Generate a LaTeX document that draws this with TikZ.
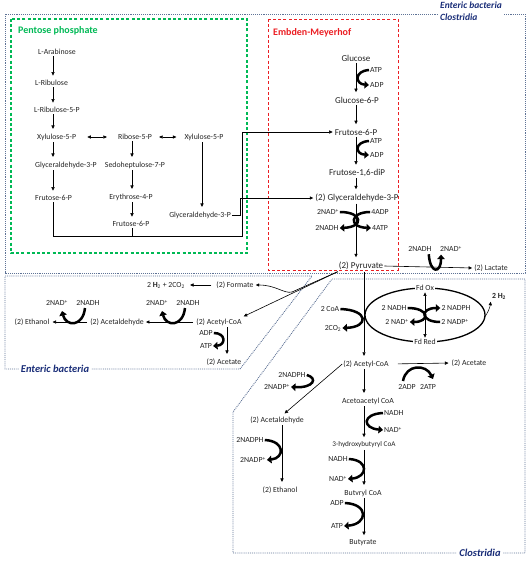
\documentclass[tikz,border=0pt]{standalone}
\usepackage{fontspec}
\setmainfont{Carlito}
\usetikzlibrary{arrows.meta,calc}
\definecolor{ppgreen}{RGB}{0,185,85}
\definecolor{emred}{RGB}{235,30,35}
\definecolor{boxblue}{RGB}{95,115,150}
\definecolor{lblblue}{RGB}{25,45,120}
\definecolor{txt}{RGB}{35,35,35}
\begin{document}
\begin{tikzpicture}[x=1pt,y=-1pt,
  t/.style={font=\fontsize{7.8}{9}\selectfont, text=txt, inner xsep=1pt, inner ysep=1.5pt},
  te/.style={t, font=\fontsize{9}{10}\selectfont},
  arr/.style={line width=0.6pt, -{Triangle[length=3.5pt,width=3.2pt]}, shorten >=1pt},
  varr/.style={arr, shorten >=3pt},
  pline/.style={line width=0.6pt},
  tarr/.style={line width=2.5pt, -{Triangle[length=4.5pt,width=7.5pt]}},
  dbl/.style={line width=0.6pt, {Triangle[length=3.5pt,width=3.2pt]}-{Triangle[length=3.5pt,width=3.2pt]}},
  regbox/.style={draw=boxblue, densely dotted, line width=0.9pt},
  reglbl/.style={text=lblblue, font=\bfseries\itshape\fontsize{10.5}{11}\selectfont, fill=white, inner sep=2pt},
  title/.style={font=\bfseries\fontsize{10}{11}\selectfont, anchor=west, inner sep=0pt}
]
\useasboundingbox (0,0) rectangle (530,562);

% ---------- region boxes ----------
\draw[regbox] (5,14) rectangle (525,273);
\node[reglbl, font=\bfseries\itshape\fontsize{9.5}{12}\selectfont, anchor=north west, align=left, inner sep=1pt] (lblall) at (439,1) {Enteric bacteria\\Clostridia};
\draw[regbox] (5,276) -- (312,276) -- (240,369) -- (5,369) -- cycle;
\node[reglbl] (lblent) at (55,369) {Enteric bacteria};
\draw[regbox] (332,279) -- (525,279) -- (525,553) -- (233,553) -- (233,412) -- cycle;
\node[reglbl] (lblclo) at (480,553) {Clostridia};

\draw[ppgreen, line width=1.1pt, dash pattern=on 3pt off 2.2pt] (11,19) rectangle (247,253);
\node[title, text=ppgreen] (pptitle) at (18,31) {Pentose phosphate};
\draw[emred, line width=1pt, dash pattern=on 3pt off 2.2pt] (268,19) rectangle (398,270);
\node[title, text=emred] (emtitle) at (273,33) {Embden-Meyerhof};

% ---------- pentose phosphate ----------
\coordinate (c1) at (53,0);
\coordinate (c2) at (132,0);
\coordinate (c2r) at (202,0);
\node[t, anchor=west] (arab) at (37,52) {L-Arabinose};
\node[t, anchor=west] (rib) at (34,83) {L-Ribulose};
\node[t, anchor=west] (rib5) at (33,110) {L-Ribulose-5-P};
\node[t, anchor=west] (xyl1) at (36,137) {Xylulose-5-P};
\node[t, anchor=west] (gap1) at (34,165) {Glyceraldehyde-3-P};
\node[t, anchor=west] (f6p1) at (34,198) {Frutose-6-P};
\node[t] (r5p) at (135,137) {Ribose-5-P};
\node[t] (s7p) at (135,165) {Sedoheptulose-7-P};
\node[t] (e4p) at (131,197) {Erythrose-4-P};
\node[t] (f6p2) at (131,224) {Frutose-6-P};
\node[t] (xyl2) at (204,137) {Xylulose-5-P};
\node[t, anchor=east] (gap2) at (232,215) {Glyceraldehyde-3-P};

\draw[varr] (arab.south -| c1) -- (rib.north -| c1);
\draw[varr] (rib.south -| c1) -- (rib5.north -| c1);
\draw[varr] (rib5.south -| c1) -- (xyl1.north -| c1);
\draw[varr] (xyl1.south -| c1) -- (gap1.north -| c1);
\draw[varr] (gap1.south -| c1) -- (f6p1.north -| c1);
\draw[varr] (r5p.south -| c2) -- (s7p.north -| c2);
\draw[varr] (s7p.south -| c2) -- (e4p.north -| c2);
\draw[varr] (e4p.south -| c2) -- (f6p2.north -| c2);
\draw[varr] (xyl2.south -| c2r) -- (gap2.north -| c2r);
\draw[dbl, shorten <=10pt, shorten >=10pt] (xyl1.east) -- (r5p.west);
\draw[dbl, shorten <=6pt, shorten >=7pt] (r5p.east) -- (xyl2.west);

% ---------- Embden-Meyerhof ----------
\coordinate (c3) at (356,0);
\node[te] (glc) at (356,58) {Glucose};
\node[te] (g6p) at (357,100) {Glucose-6-P};
\node[te] (f6p3) at (356,132) {Frutose-6-P};
\node[te] (fbp) at (357,173) {Frutose-1,6-diP};
\node[te] (gap3) at (357,198) {(2) Glyceraldehyde-3-P};
\node[te] (pyr) at (361,266) {(2) Pyruvate};
\node[t, anchor=west] (atp1) at (369,70) {ATP};
\node[t, anchor=west] (adp1) at (369,85) {ADP};
\node[t, anchor=west] (atp2) at (369,141) {ATP};
\node[t, anchor=west] (adp2) at (369,155) {ADP};
\node[t] (nad1) at (328,212) {2NAD\textsuperscript{+}};
\node[t] (nadh1) at (327,228) {2NADH};
\node[t] (adp3) at (380,212) {4ADP};
\node[t] (atp3) at (380,228) {4ATP};

\draw[varr] (glc.south -| c3) -- (g6p.north -| c3);
\draw[varr] (g6p.south -| c3) -- (f6p3.north -| c3);
\draw[varr] (f6p3.south -| c3) -- (fbp.north -| c3);
\draw[varr] (fbp.south -| c3) -- (gap3.north -| c3);
\draw[varr] (gap3.south -| c3) -- (pyr.north -| c3);
\draw[tarr] (atp1.west) .. controls (354,71) and (355,84) .. (adp1.west);
\draw[tarr] (atp2.west) .. controls (354,142) and (355,154) .. (adp2.west);
\draw[tarr] (nad1.east) .. controls (363,212) and (364,227) .. (nadh1.east);
\draw[tarr] (adp3.west) .. controls (350,212) and (348,227) .. (atp3.west);

% pentose -> glycolysis connectors
\draw[arr] (f6p1.south -| c1) |- (242,236) |- (f6p3.west);
\draw[pline] (f6p2.south -| c2) -- (c2 |- 0,236);
\draw[arr] (gap2.east) -- (240,215) |- (gap3.west);

% lactate
\node[t] (lac) at (491,268) {(2) Lactate};
\node[t] (nadh2) at (420,249) {2NADH};
\node[t] (nad2) at (451,249) {2NAD\textsuperscript{+}};
\draw[arr] (pyr.east) -- (lac.west);
\draw[tarr] ($(nadh2.south east)+(-4,1)$) .. controls (430,274) and (441,274) .. ($(nad2.south west)+(2,1)$);

% ---------- Enteric bacteria ----------
\coordinate (c4) at (227,0);
\node[t] (form) at (235,285) {(2) Formate};
\node[t] (h2co2) at (166,285) {2 \textbf{H}\textsubscript{2} + 2CO\textsubscript{2}};
\node[t] (acoa1) at (219,322) {(2) Acetyl-CoA};
\node[t] (ald1) at (117,322) {(2) Acetaldehyde};
\node[t] (eth1) at (32,322) {(2) Ethanol};
\node[t] (ace1) at (224,362) {(2) Acetate};
\node[t] (nad3) at (157,303) {2NAD\textsuperscript{+}};
\node[t] (nadh3) at (188,303) {2NADH};
\node[t] (nad4) at (57,303) {2NAD\textsuperscript{+}};
\node[t] (nadh4) at (88,303) {2NADH};
\node[t] (adp4) at (206,333) {ADP};
\node[t] (atp4) at (206,346) {ATP};

\draw[arr, shorten <=4pt, shorten >=4pt] (form.west) -- (h2co2.east);
\draw[arr] (pyr.south west) -- (292,292) .. controls (284,294) and (276,285) .. (form.east);
\draw[arr] (pyr.south west) -- (acoa1.north east);
\draw[arr, shorten <=2pt] (acoa1.west) -- (ald1.east);
\draw[arr, shorten <=2pt, shorten >=2pt] (ald1.west) -- (eth1.east);
\draw[varr] (acoa1.south -| c4) -- (ace1.north -| c4);
\draw[tarr] (185,308) .. controls (183,327) and (166,327) .. (162,311);
\draw[tarr] (85,308) .. controls (83,327) and (66,327) .. (62,311);
\draw[tarr] (adp4.east) .. controls (226,333) and (226,345) .. (atp4.east);

% ---------- Clostridia ----------
\coordinate (c5) at (425,0);
\coordinate (c6) at (364,0);
\coordinate (c7) at (282,0);
\node[t] (coa) at (330,309) {2 CoA};
\node[t] (co2) at (333,328) {2CO\textsubscript{2}};
\draw[tarr] (coa.east) .. controls (369,310) and (369,327) .. (co2.east);

\draw[line width=1.3pt] (425,315) ellipse [x radius=60pt, y radius=27pt];
\node[t, fill=white] (fdox) at (425,288) {Fd Ox};
\node[t, fill=white] (fdred) at (425,342) {Fd Red};
\node[t] (nadh5) at (394,308) {2 NADH};
\node[t] (nad5) at (397,322) {2 NAD\textsuperscript{+}};
\node[t] (nadph5) at (456,308) {2 NADPH};
\node[t] (nadp5) at (455,322) {2 NADP\textsuperscript{+}};
\draw[dbl] (fdox.south -| c5) -- (fdred.north -| c5);
\draw[tarr] (nadh5.east) .. controls (430,308) and (430,322) .. (nad5.east);
\draw[tarr] (nadp5.west) .. controls (420,322) and (420,308) .. (nadph5.west);
\node[t, font=\bfseries\fontsize{7.8}{9}\selectfont] (h2b) at (499,296) {2 H\textsubscript{2}};
\draw[arr, line width=0.5pt] (484,318) .. controls (488,313) and (490,307) .. (h2b.south west);

\node[t] (acoa2) at (366,364) {(2) Acetyl-CoA};
\node[t] (ace2) at (469,363) {(2) Acetate};
\node[t] (adp5) at (407,387) {2ADP};
\node[t] (atp5) at (428,387) {2ATP};
\draw[varr] (pyr.south -| c6) -- (acoa2.north -| c6);
\draw[arr, shorten <=8pt, shorten >=2pt] (acoa2.east) -- (ace2.west);
\draw[tarr] (403,381) .. controls (406,364) and (426,364) .. (433,379);

\node[t] (acac) at (368,401) {Acetoacetyl CoA};
\node[t, anchor=west] (nadh6) at (383,413) {NADH};
\node[t, anchor=west] (nad6) at (383,430) {NAD\textsuperscript{+}};
\node[t, font=\fontsize{7.2}{9}\selectfont] (hbcoa) at (364,445) {3-hydroxybutyryl CoA};
\node[t] (nadh7) at (338,459) {NADH};
\node[t] (nad7) at (338,479) {NAD\textsuperscript{+}};
\node[t] (bcoa) at (363,493) {Butvryl CoA};
\node[t] (adp7) at (337,503) {ADP};
\node[t] (atp7) at (337,526) {ATP};
\node[t] (but) at (363,543) {Butyrate};

\draw[varr] (acoa2.south -| c6) -- (acac.north -| c6);
\draw[varr] (acac.south -| c6) -- (hbcoa.north -| c6);
\draw[varr] (hbcoa.south -| c6) -- (bcoa.north -| c6);
\draw[varr] (bcoa.south -| c6) -- (but.north -| c6);
\draw[tarr] (nadh6.west) .. controls (362,414) and (362,428) .. (nad6.west);
\draw[tarr] (nadh7.east) .. controls (369,460) and (368,477) .. (nad7.east);
\draw[tarr] (adp7.east) .. controls (369,504) and (368,524) .. (atp7.east);

\node[t] (ald2) at (277,420) {(2) Acetaldehyde};
\node[t] (nadph8) at (292,375) {2NADPH};
\node[t] (nadp8) at (277,387) {2NADP\textsuperscript{+}};
\node[t] (eth2) at (280,490) {(2) Ethanol};
\node[t] (nadph9) at (250,440) {2NADPH};
\node[t] (nadp9) at (253,460) {2NADP\textsuperscript{+}};
\draw[arr, shorten >=2pt] (acoa2.west) -- ($(ald2.north)+(6,0)$);
\draw[tarr] (nadph8.east) .. controls (318,378) and (314,388) .. (nadp8.east);
\draw[varr] (ald2.south -| c7) -- (eth2.north -| c7);
\draw[tarr] (nadph9.east) .. controls (285,441) and (285,458) .. (nadp9.east);
\end{tikzpicture}
\end{document}
